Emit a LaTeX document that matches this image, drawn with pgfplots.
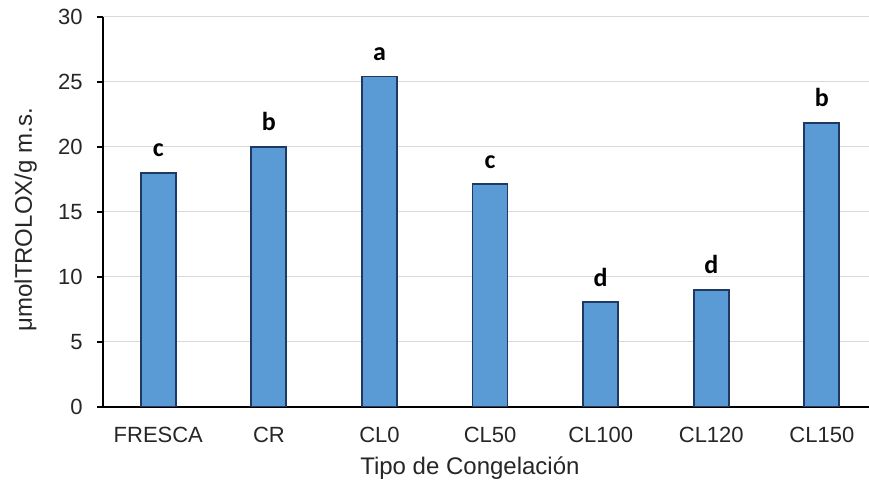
\documentclass[border=0pt]{standalone}
\usepackage{pgfplots}
\pgfplotsset{compat=1.18}
\usepackage{fontspec}
\setmainfont{Liberation Sans}
\newfontfamily\calibri{Carlito}
\definecolor{barfill}{HTML}{5B9BD5}
\definecolor{baredge}{HTML}{203864}
\definecolor{gridc}{HTML}{D9D9D9}
\begin{document}
\begin{tikzpicture}
\useasboundingbox (-51.5pt,-39.65pt) rectangle (383pt,203.35pt);
\begin{axis}[
  scale only axis, width=383pt, height=195pt,
  xmin=-0.5, xmax=6.426, ymin=0, ymax=30,
  ytick={0,5,...,30},
  xtick={0,...,6},
  xticklabels={FRESCA,CR,CL0,CL50,CL100,CL120,CL150},
  axis x line*=bottom, axis y line*=left,
  axis line style={black, line width=1pt, -},
  tick align=inside, major tick length=3pt,
  tick style={black, line width=0.9pt},
  y tick style={xshift=-3pt},
  ymajorgrids, grid style={gridc, line width=0.7pt},
  /pgf/number format/assume math mode=true,
  ticklabel style={font=\fontsize{11}{13}\selectfont, text=black!85},
  yticklabel style={anchor=east, inner sep=0pt, xshift=-10pt},
  xticklabel style={anchor=base, inner sep=0pt, yshift=-18pt},
  ylabel={μmolTROLOX/g m.s.},
  xlabel={Tipo de Congelación},
  label style={font=\fontsize{12}{14}\selectfont, text=black!85},
  ylabel style={at={(axis description cs:-0.0927,0.479)}, anchor=base, inner sep=0pt},
  xlabel style={at={(axis description cs:0.479,-0.175)}, anchor=base, inner sep=0pt},
]
\addplot[ybar, bar width=17.5pt, fill=barfill, draw=baredge, line width=0.9pt,
  nodes near coords, point meta=explicit symbolic,
  every node near coord/.style={font=\calibri\bfseries\fontsize{13}{15}\selectfont, text=black, anchor=base, inner sep=0pt, yshift=8pt}]
  table[meta=l] {
  x y l
  0 18.0 c
  1 20.0 b
  2 25.4 a
  3 17.1 c
  4 8.05 d
  5 9.0 d
  6 21.85 b
  };
\end{axis}
\end{tikzpicture}
\end{document}
